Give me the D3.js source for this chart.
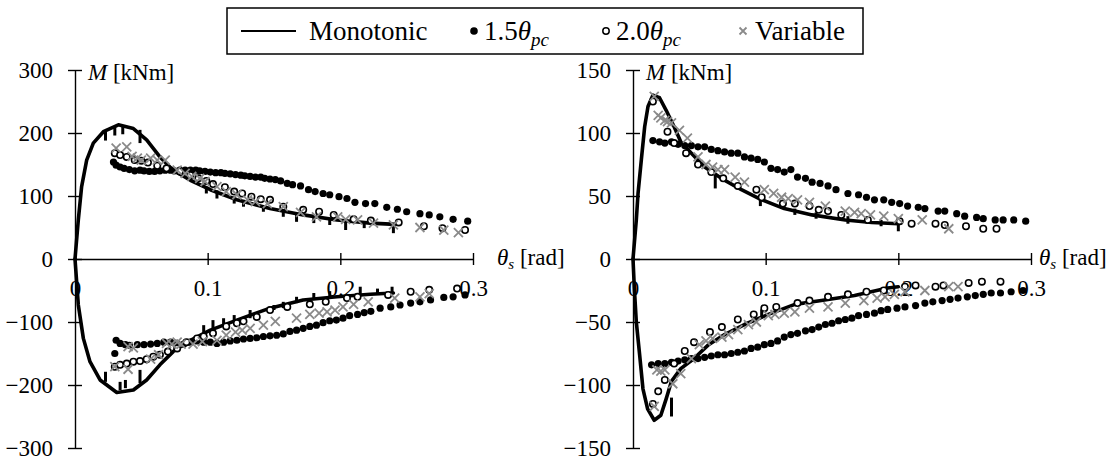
<!DOCTYPE html>
<html>
<head>
<meta charset="utf-8">
<script src="https://cdn.jsdelivr.net/npm/d3@7"></script>
<style>
  body { margin: 0; background: #fff; }
</style>
</head>
<body>
<div id="chart"></div>
<script>
// ---- data (theta_s [rad], M [kNm]) ----
const xTicks = [0, 0.1, 0.2, 0.3];
const leftYTicks = [-300, -200, -100, 0, 100, 200, 300];
const rightYTicks = [-150, -100, -50, 0, 50, 100, 150];
const legendLabels = ['Monotonic', '1.5', '2.0', 'Variable'];

// left panel
const leftMonoPos = [[0,0],[0.0025,62],[0.005,115],[0.0088,157],[0.0138,184],[0.0214,202],[0.0327,213],[0.044,207],[0.054,189],[0.064,162],[0.074,141],[0.087,125],[0.102,110],[0.122,94],[0.147,80],[0.172,70],[0.1975,62],[0.2226,57],[0.2415,55]];
const leftMonoNeg = [[0,0],[0.0025,-73],[0.0063,-126],[0.0113,-163],[0.0189,-192],[0.0315,-212],[0.044,-208],[0.054,-192],[0.064,-168],[0.074,-147],[0.087,-129],[0.102,-113],[0.122,-97],[0.147,-78],[0.172,-65],[0.1975,-60],[0.2226,-56],[0.240,-54]];
const leftMonoSpikes = [[0.023,202,188],[0.030,210,196],[0.036,212,198],[0.049,205,184],[0.099,115,104],[0.107,109,96],[0.120,99,88],[0.127,94,83],[0.142,83,75],[0.157,78,67],[0.167,72,59],[0.180,70,57],[0.192,65,54],[0.204,63,46],[0.218,59,49],[0.240,57,41],
  [0.023,-195,-179],[0.034,-208,-195],[0.038,-205,-192],[0.049,-197,-176],[0.097,-118,-105],[0.104,-113,-97],[0.112,-107,-94],[0.120,-99,-89],[0.132,-94,-81],[0.150,-81,-73],[0.157,-78,-68],[0.167,-70,-60],[0.180,-65,-54],[0.192,-61,-51],[0.215,-57,-44],[0.228,-56,-47],[0.239,-54,-44]];
const left15 = [[0.029,154],[0.031,149],[0.034,146],[0.037,144],[0.041,142],[0.045,140],[0.049,141],[0.052,140],[0.056,139],[0.060,139],[0.064,140],[0.068,141],[0.072,141],[0.075,140],[0.079,141],[0.083,141],[0.087,141],[0.091,141],[0.094,140],[0.098,139],[0.102,138],[0.106,137],[0.110,137],[0.113,136],[0.117,135],[0.121,134],[0.125,133],[0.128,132],[0.132,131],[0.136,130],[0.140,130],[0.143,128],[0.147,127],[0.151,126],[0.155,124],[0.160,120],[0.164,118],[0.170,116],[0.176,110],[0.181,107],[0.187,104],[0.192,102],[0.199,99],[0.205,96],[0.211,90],[0.219,88],[0.226,88],[0.235,82],[0.243,79],[0.250,75],[0.260,72],[0.267,70],[0.275,67],[0.285,63],[0.296,60],
  [0.030,-150],[0.031,-129],[0.034,-134],[0.038,-136],[0.041,-137],[0.047,-136],[0.052,-136],[0.057,-135],[0.062,-134],[0.067,-132],[0.072,-132],[0.077,-134],[0.082,-135],[0.087,-132],[0.092,-130],[0.097,-132],[0.102,-132],[0.107,-134],[0.112,-132],[0.117,-130],[0.122,-129],[0.127,-127],[0.132,-126],[0.137,-125],[0.142,-123],[0.147,-122],[0.152,-121],[0.157,-119],[0.162,-115],[0.167,-113],[0.172,-110],[0.177,-107],[0.182,-105],[0.187,-101],[0.192,-98],[0.197,-97],[0.202,-94],[0.207,-90],[0.213,-88],[0.218,-85],[0.223,-83],[0.230,-78],[0.238,-76],[0.245,-73],[0.253,-70],[0.260,-68],[0.268,-65],[0.278,-61],[0.285,-60],[0.294,-57]];
const left20 = [[0.030,168],[0.034,165],[0.039,162],[0.045,157],[0.050,156],[0.055,153],[0.062,148],[0.069,144],[0.079,139],[0.087,133],[0.093,128],[0.099,124],[0.104,119],[0.113,114],[0.120,107],[0.126,104],[0.133,99],[0.140,95],[0.147,94],[0.157,83],[0.172,78],[0.184,75],[0.195,70],[0.210,63],[0.223,61],[0.244,58],[0.263,52],[0.277,49],[0.294,46],
  [0.030,-171],[0.034,-168],[0.039,-166],[0.044,-163],[0.049,-162],[0.054,-159],[0.059,-155],[0.064,-152],[0.070,-147],[0.077,-142],[0.084,-132],[0.092,-126],[0.097,-123],[0.104,-118],[0.114,-107],[0.122,-102],[0.127,-99],[0.137,-92],[0.147,-81],[0.160,-76],[0.177,-72],[0.189,-68],[0.205,-62],[0.213,-60],[0.236,-57],[0.253,-52],[0.267,-49],[0.288,-47]];
const leftVar = [[0.031,176],[0.039,178],[0.043,163],[0.047,160],[0.050,157],[0.057,160],[0.062,157],[0.068,157],[0.077,141],[0.083,136],[0.088,131],[0.094,128],[0.098,123],[0.107,115],[0.114,107],[0.122,102],[0.130,94],[0.136,91],[0.145,88],[0.157,83],[0.170,74],[0.182,67],[0.198,67],[0.204,63],[0.213,62],[0.225,57],[0.240,54],[0.260,50],[0.278,46],[0.289,42],
  [0.030,-171],[0.040,-175],[0.040,-139],[0.044,-141],[0.057,-159],[0.063,-152],[0.069,-134],[0.073,-135],[0.077,-132],[0.080,-135],[0.089,-135],[0.096,-131],[0.107,-129],[0.114,-121],[0.121,-116],[0.126,-113],[0.132,-110],[0.142,-105],[0.151,-99],[0.167,-94],[0.177,-88],[0.184,-86],[0.190,-84],[0.196,-81],[0.202,-76],[0.210,-72],[0.221,-68],[0.241,-62],[0.260,-60],[0.267,-55]];

// right panel
const rightMonoPos = [[0,0],[0.0025,31],[0.0038,52],[0.0063,79],[0.0088,105],[0.0113,121],[0.015,130],[0.020,128],[0.025,118],[0.031,105],[0.036,93],[0.044,84],[0.054,73],[0.0666,64],[0.0817,55],[0.097,47],[0.114,40],[0.135,35],[0.160,31],[0.180,29],[0.200,28]];
const rightMonoNeg = [[0,0],[0.001,-23],[0.0025,-50],[0.005,-76],[0.0075,-103],[0.011,-119],[0.016,-128],[0.021,-124],[0.025,-111],[0.029,-97],[0.036,-87],[0.046,-79],[0.057,-68],[0.069,-60],[0.084,-52],[0.102,-44],[0.122,-36],[0.142,-33],[0.167,-29],[0.192,-23],[0.200,-22]];
const rightMonoSpikes = [[0.062,67,56],[0.096,47,42],[0.122,40,35],[0.138,37,32],[0.162,34,28],[0.187,31,26],[0.200,30,22],
  [0.029,-125,-110],[0.097,-46,-40]];
const right15 = [[0.015,94],[0.020,93],[0.024,92],[0.029,93],[0.034,91],[0.039,90],[0.044,90],[0.049,89],[0.054,89],[0.059,87],[0.064,86],[0.069,85],[0.074,84],[0.079,84],[0.084,81],[0.089,80],[0.094,79],[0.099,77],[0.104,72],[0.109,71],[0.114,69],[0.119,71],[0.124,65],[0.130,64],[0.135,61],[0.141,60],[0.147,58],[0.153,55],[0.162,52],[0.170,51],[0.176,49],[0.182,47],[0.189,47],[0.195,45],[0.201,44],[0.207,42],[0.215,41],[0.220,40],[0.230,38],[0.235,38],[0.244,36],[0.250,34],[0.259,33],[0.264,32],[0.273,31],[0.279,31],[0.287,31],[0.296,30],
  [0.014,-84],[0.019,-83],[0.024,-83],[0.029,-82],[0.034,-81],[0.039,-80],[0.044,-79],[0.049,-79],[0.054,-78],[0.059,-77],[0.064,-76],[0.069,-76],[0.074,-75],[0.079,-74],[0.084,-73],[0.089,-71],[0.094,-70],[0.099,-68],[0.104,-67],[0.109,-65],[0.114,-62],[0.119,-60],[0.124,-59],[0.130,-57],[0.135,-56],[0.140,-54],[0.145,-52],[0.150,-51],[0.155,-49],[0.160,-48],[0.165,-47],[0.170,-45],[0.176,-44],[0.182,-43],[0.187,-41],[0.192,-40],[0.199,-39],[0.205,-38],[0.213,-37],[0.220,-35],[0.226,-34],[0.233,-33],[0.239,-32],[0.245,-31],[0.252,-30],[0.258,-29],[0.264,-28],[0.270,-27],[0.277,-27],[0.285,-26],[0.294,-25]];
const right20 = [[0.015,125],[0.026,101],[0.031,92],[0.040,84],[0.049,75],[0.059,69],[0.068,64],[0.079,58],[0.093,55],[0.097,49],[0.113,44],[0.122,44],[0.133,42],[0.140,39],[0.147,38],[0.157,35],[0.177,31],[0.201,30],[0.210,28],[0.228,28],[0.235,27],[0.251,26],[0.264,24],[0.274,24],
  [0.015,-115],[0.019,-105],[0.024,-96],[0.031,-83],[0.039,-73],[0.046,-66],[0.058,-58],[0.067,-54],[0.079,-48],[0.091,-44],[0.099,-39],[0.108,-38],[0.124,-35],[0.133,-33],[0.147,-30],[0.162,-28],[0.176,-26],[0.189,-25],[0.205,-22],[0.213,-21],[0.228,-22],[0.234,-21],[0.253,-19],[0.263,-18],[0.277,-18]];
const rightVar = [[0.016,129],[0.019,114],[0.021,112],[0.024,110],[0.026,109],[0.029,108],[0.035,102],[0.041,96],[0.049,81],[0.055,75],[0.060,73],[0.064,71],[0.069,71],[0.077,65],[0.084,61],[0.099,55],[0.106,52],[0.112,49],[0.117,48],[0.124,47],[0.133,45],[0.145,42],[0.160,38],[0.167,37],[0.172,36],[0.179,35],[0.189,34],[0.200,32],[0.218,31],[0.238,24],
  [0.016,-117],[0.018,-88],[0.021,-89],[0.024,-88],[0.030,-99],[0.036,-91],[0.044,-79],[0.050,-68],[0.055,-65],[0.060,-63],[0.067,-62],[0.072,-60],[0.079,-56],[0.087,-52],[0.093,-50],[0.102,-45],[0.107,-44],[0.114,-43],[0.122,-42],[0.133,-39],[0.147,-38],[0.160,-35],[0.174,-33],[0.184,-31],[0.190,-30],[0.197,-28],[0.205,-26],[0.220,-25],[0.238,-22],[0.245,-22]];

// ---- layout ----
const W = 1113, H = 462;
const GRAY = '#8a8a8a';
const FONT = 'Liberation Serif';
const svg = d3.select('#chart').append('svg').attr('width', W).attr('height', H);

const panels = [
  {x0: 75, yTicks: leftYTicks, ymax: 300, titleGap: 24, mono: [leftMonoPos, leftMonoNeg], spikes: leftMonoSpikes, s15: left15, s20: left20, sv: leftVar},
  {x0: 633, yTicks: rightYTicks, ymax: 150, titleGap: 8, mono: [rightMonoPos, rightMonoNeg], spikes: rightMonoSpikes, s15: right15, s20: right20, sv: rightVar}
];

function crossMark(g, x, y, s) {
  g.append('path')
    .attr('d', `M${x-s},${y-s}L${x+s},${y+s}M${x-s},${y+s}L${x+s},${y-s}`)
    .attr('stroke', GRAY).attr('stroke-width', 1.8).attr('fill', 'none');
}

function addText(g, x, y, size) {
  return g.append('text').attr('x', x).attr('y', y)
    .attr('font-family', FONT).attr('font-size', size).attr('fill', '#000');
}

panels.forEach(p => {
  const x = d3.scaleLinear().domain([0, 0.3]).range([p.x0, p.x0 + 398]);
  const y = d3.scaleLinear().domain([-p.ymax, p.ymax]).range([448, 70]);
  const g = svg.append('g');

  // axes
  const xAxisG = g.append('g').attr('transform', `translate(0,${y(0)})`)
    .call(d3.axisBottom(x).tickValues(xTicks).tickFormat(d3.format('')).tickSize(6).tickSizeOuter(0).tickPadding(15));
  xAxisG.selectAll('.tick line').attr('y1', -6);
  const yAxisG = g.append('g').attr('transform', `translate(${p.x0},0)`)
    .call(d3.axisLeft(y).tickValues(p.yTicks).tickSize(7).tickSizeOuter(0).tickPadding(15));
  yAxisG.selectAll('.tick line').attr('x1', 7);
  [xAxisG, yAxisG].forEach(a => {
    a.attr('font-family', FONT).attr('font-size', 23);
    a.select('.domain').attr('stroke', '#000').attr('stroke-width', 1.4);
    a.selectAll('.tick line').attr('stroke', '#000').attr('stroke-width', 1.4);
    a.selectAll('.tick text').attr('fill', '#000').attr('font-family', FONT);
  });

  // axis titles
  const mt = addText(g, p.x0 + 13, 80, 23);
  mt.append('tspan').attr('font-style', 'italic').text('M');
  mt.append('tspan').text(' [kNm]');
  const tt = addText(g, x(0.3) + p.titleGap, y(0) + 6, 23);
  tt.append('tspan').attr('font-style', 'italic').text('θ');
  tt.append('tspan').attr('font-style', 'italic').attr('font-size', 15).attr('dy', 4).text('s');
  tt.append('tspan').attr('dy', -4).text(' [rad]');

  // monotonic
  const line = d3.line().x(d => x(d[0])).y(d => y(d[1]));
  p.mono.forEach(m => {
    g.append('path').datum(m).attr('d', line)
      .attr('fill', 'none').attr('stroke', '#000').attr('stroke-width', 3.6)
      .attr('stroke-linejoin', 'round').attr('stroke-linecap', 'round');
  });
  g.selectAll('.spike').data(p.spikes).join('line').attr('class', 'spike')
    .attr('x1', d => x(d[0])).attr('x2', d => x(d[0]))
    .attr('y1', d => y(d[1])).attr('y2', d => y(d[2]))
    .attr('stroke', '#000').attr('stroke-width', 3);

  // 1.5 theta_pc
  g.selectAll('.d15').data(p.s15).join('circle').attr('class', 'd15')
    .attr('cx', d => x(d[0])).attr('cy', d => y(d[1])).attr('r', 3.6).attr('fill', '#000');
  // 2.0 theta_pc
  g.selectAll('.d20').data(p.s20).join('circle').attr('class', 'd20')
    .attr('cx', d => x(d[0])).attr('cy', d => y(d[1])).attr('r', 3.2)
    .attr('fill', '#fff').attr('stroke', '#000').attr('stroke-width', 1.6);
  // variable
  p.sv.forEach(d => crossMark(g, x(d[0]), y(d[1]), 4.5));
});

// ---- legend ----
const lg = svg.append('g');
lg.append('rect').attr('x', 227).attr('y', 8).attr('width', 636).attr('height', 46)
  .attr('fill', '#fff').attr('stroke', '#000').attr('stroke-width', 1.5);
const ly = 31;
lg.append('line').attr('x1', 241).attr('x2', 296).attr('y1', ly).attr('y2', ly)
  .attr('stroke', '#000').attr('stroke-width', 2);
addText(lg, 309, ly + 9, 27).text(legendLabels[0]);
lg.append('circle').attr('cx', 474).attr('cy', ly).attr('r', 3.8).attr('fill', '#000');
lg.append('circle').attr('cx', 606).attr('cy', ly).attr('r', 3.2).attr('fill', '#fff').attr('stroke', '#000').attr('stroke-width', 1.5);
crossMark(lg, 743, ly, 3.5);
[[484, legendLabels[1]], [616, legendLabels[2]]].forEach(([lx, lab]) => {
  const t = addText(lg, lx, ly + 9, 27);
  t.append('tspan').text(lab);
  t.append('tspan').attr('font-style', 'italic').text('θ');
  t.append('tspan').attr('font-style', 'italic').attr('font-size', 19).attr('dy', 6).text('pc');
});
addText(lg, 755, ly + 9, 27).text(legendLabels[3]);
</script>
</body>
</html>
